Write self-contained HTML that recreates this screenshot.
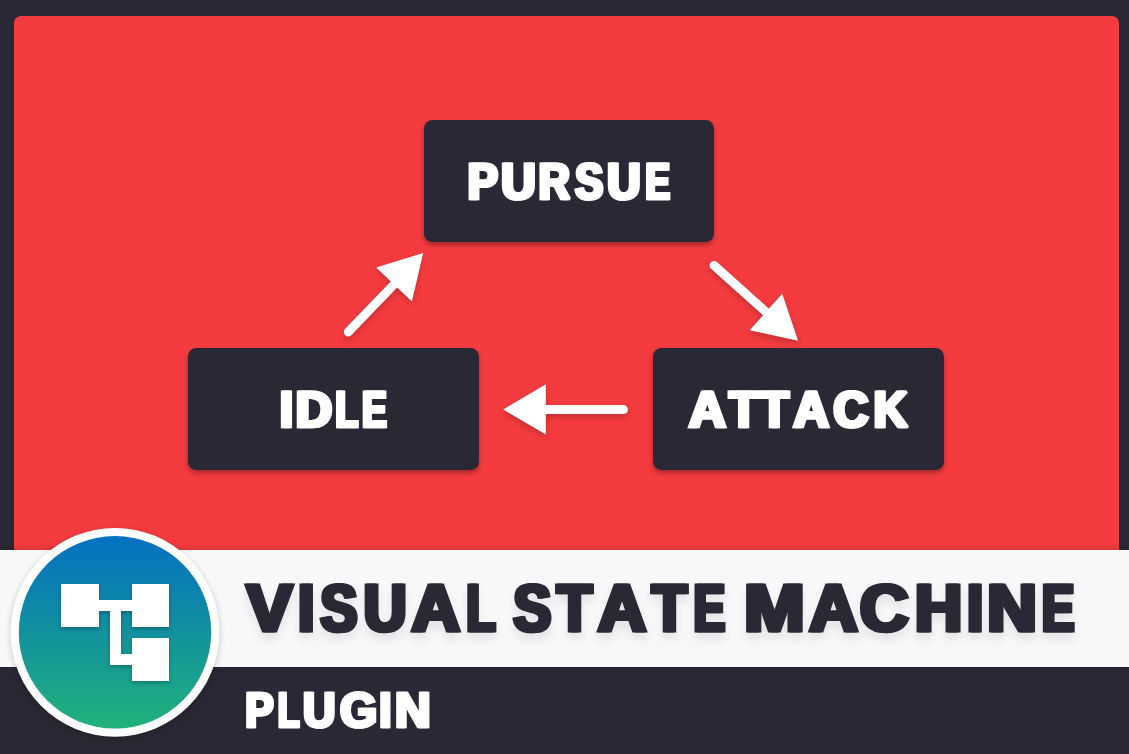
<!DOCTYPE html>
<html><head><meta charset="utf-8">
<style>
html,body{margin:0;padding:0;}
body{width:1129px;height:754px;overflow:hidden;background:#2a2834;position:relative;font-family:"Liberation Sans",sans-serif;}
.red{position:absolute;left:13.6px;top:15.9px;width:1105.1px;height:560px;background:#f43b3f;border-radius:7px;}
.box{position:absolute;background:#2a2834;border-radius:8.5px;box-shadow:0 3px 5px rgba(0,0,0,0.32);}
.band{position:absolute;left:0;top:550px;width:1129px;height:117px;background:#f8f8fa;box-shadow:0 -1px 8px rgba(0,0,0,0.15);}
svg{position:absolute;left:0;top:0;}
text{font-family:"Liberation Sans",sans-serif;font-weight:bold;opacity:0.999;text-rendering:geometricPrecision;}
</style></head><body>
<div class="red"></div>
<div class="box" style="left:423.7px;top:119.7px;width:290px;height:122px;"></div>
<div class="box" style="left:188.3px;top:348.1px;width:290.6px;height:122.2px;"></div>
<div class="box" style="left:653.4px;top:348.1px;width:290.5px;height:122.2px;"></div>
<svg width="1129" height="754" viewBox="0 0 1129 754">
 <text id="wt1" y="198.85" font-size="51.16" fill="#fff" stroke="#fff" stroke-width="2.70" stroke-linejoin="miter" stroke-miterlimit="2"><tspan x="466.78" textLength="30.07" lengthAdjust="spacingAndGlyphs">P</tspan><tspan x="500.30" textLength="34.34" lengthAdjust="spacingAndGlyphs">U</tspan><tspan x="537.66" textLength="31.09" lengthAdjust="spacingAndGlyphs">R</tspan><tspan x="574.20" textLength="27.83" lengthAdjust="spacingAndGlyphs">S</tspan><tspan x="606.35" textLength="33.24" lengthAdjust="spacingAndGlyphs">U</tspan><tspan x="644.42" textLength="24.34" lengthAdjust="spacingAndGlyphs">E</tspan></text><use href="#wt1" x="2.00"/>
 <text id="wt2" y="426.74" font-size="50.98" fill="#fff" stroke="#fff" stroke-width="2.72" stroke-linejoin="miter" stroke-miterlimit="2"><tspan x="278.93" textLength="12.94" lengthAdjust="spacingAndGlyphs">I</tspan><tspan x="294.78" textLength="36.39" lengthAdjust="spacingAndGlyphs">D</tspan><tspan x="334.62" textLength="22.53" lengthAdjust="spacingAndGlyphs">L</tspan><tspan x="361.24" textLength="24.31" lengthAdjust="spacingAndGlyphs">E</tspan></text><use href="#wt2" x="2.00"/>
 <text id="wt3" y="426.74" font-size="50.98" fill="#fff" stroke="#fff" stroke-width="2.72" stroke-linejoin="miter" stroke-miterlimit="2"><tspan x="687.89" textLength="36.69" lengthAdjust="spacingAndGlyphs">A</tspan><tspan x="728.33" textLength="28.72" lengthAdjust="spacingAndGlyphs">T</tspan><tspan x="758.93" textLength="28.72" lengthAdjust="spacingAndGlyphs">T</tspan><tspan x="792.59" textLength="35.39" lengthAdjust="spacingAndGlyphs">A</tspan><tspan x="832.61" textLength="34.82" lengthAdjust="spacingAndGlyphs">C</tspan><tspan x="872.83" textLength="33.66" lengthAdjust="spacingAndGlyphs">K</tspan></text><use href="#wt3" x="2.00"/>
 <g fill="#fff" stroke="#fff" stroke-linecap="round" style="filter:drop-shadow(0 3px 3px rgba(0,0,0,0.2))">
  <line x1="348.3" y1="331.9" x2="394" y2="284.5" stroke-width="9"/>
  <polygon points="423.2,253 376.1,267.5 411.9,301.4" stroke="none"/>
  <line x1="714" y1="265.4" x2="766" y2="312" stroke-width="9"/>
  <polygon points="798.1,340.8 749.7,330.2 782.2,293.8" stroke="none"/>
  <line x1="623.4" y1="409.6" x2="540" y2="409.6" stroke-width="9"/>
  <polygon points="503.1,409.6 545.8,384.3 545.8,434.5" stroke="none"/>
 </g>
</svg>
<div class="band"></div>
<svg width="1129" height="754" viewBox="0 0 1129 754">
 <defs>
  <linearGradient id="g" x1="0" y1="0" x2="0" y2="1">
   <stop offset="0" stop-color="#0470c2"/>
   <stop offset="1" stop-color="#21b27a"/>
  </linearGradient>
 </defs>
 <g style="filter:drop-shadow(0 7px 5px rgba(0,0,0,0.08))"><text id="wt4" y="631.21" font-size="66.59" fill="#2a2834" stroke="#2a2834" stroke-width="3.19" stroke-linejoin="miter" stroke-miterlimit="2"><tspan x="245.47" textLength="45.47" lengthAdjust="spacingAndGlyphs">V</tspan><tspan x="297.04" textLength="15.93" lengthAdjust="spacingAndGlyphs">I</tspan><tspan x="319.13" textLength="36.80" lengthAdjust="spacingAndGlyphs">S</tspan><tspan x="362.56" textLength="42.73" lengthAdjust="spacingAndGlyphs">U</tspan><tspan x="410.54" textLength="48.03" lengthAdjust="spacingAndGlyphs">A</tspan><tspan x="465.32" textLength="28.09" lengthAdjust="spacingAndGlyphs">L</tspan> <tspan x="512.32" textLength="37.63" lengthAdjust="spacingAndGlyphs">S</tspan><tspan x="555.63" textLength="35.02" lengthAdjust="spacingAndGlyphs">T</tspan><tspan x="596.64" textLength="48.03" lengthAdjust="spacingAndGlyphs">A</tspan><tspan x="650.63" textLength="34.92" lengthAdjust="spacingAndGlyphs">T</tspan><tspan x="692.49" textLength="31.22" lengthAdjust="spacingAndGlyphs">E</tspan> <tspan x="742.99" textLength="60.32" lengthAdjust="spacingAndGlyphs">M</tspan><tspan x="808.34" textLength="48.03" lengthAdjust="spacingAndGlyphs">A</tspan><tspan x="858.85" textLength="48.48" lengthAdjust="spacingAndGlyphs">C</tspan><tspan x="913.80" textLength="47.14" lengthAdjust="spacingAndGlyphs">H</tspan><tspan x="965.96" textLength="15.78" lengthAdjust="spacingAndGlyphs">I</tspan><tspan x="986.05" textLength="49.53" lengthAdjust="spacingAndGlyphs">N</tspan><tspan x="1040.83" textLength="32.21" lengthAdjust="spacingAndGlyphs">E</tspan></text><use href="#wt4" x="2.50"/></g>
 <text id="wt5" y="727.45" font-size="49.42" fill="#fff" stroke="#fff" stroke-width="2.70" stroke-linejoin="miter" stroke-miterlimit="2"><tspan x="244.52" textLength="28.38" lengthAdjust="spacingAndGlyphs">P</tspan><tspan x="277.09" textLength="21.73" lengthAdjust="spacingAndGlyphs">L</tspan><tspan x="302.33" textLength="32.49" lengthAdjust="spacingAndGlyphs">U</tspan><tspan x="339.25" textLength="37.11" lengthAdjust="spacingAndGlyphs">G</tspan><tspan x="378.47" textLength="12.17" lengthAdjust="spacingAndGlyphs">I</tspan><tspan x="394.15" textLength="35.63" lengthAdjust="spacingAndGlyphs">N</tspan></text><use href="#wt5" x="1.50"/>
 <circle cx="115" cy="632.3" r="104.4" fill="#fff" style="filter:drop-shadow(0 2px 3px rgba(0,0,0,0.2))"/>
 <circle cx="115" cy="632.3" r="96.2" fill="url(#g)"/>
 <g fill="#fff" style="filter:drop-shadow(0 2px 2px rgba(0,0,0,0.25))">
  <rect x="61" y="584" width="38" height="43"/>
  <rect x="132" y="584" width="37" height="43"/>
  <rect x="98" y="600" width="35" height="11"/>
  <rect x="110" y="600" width="11" height="65"/>
  <rect x="110" y="654" width="23" height="11"/>
  <rect x="132" y="638" width="37" height="43"/>
 </g>
</svg>
</body></html>
